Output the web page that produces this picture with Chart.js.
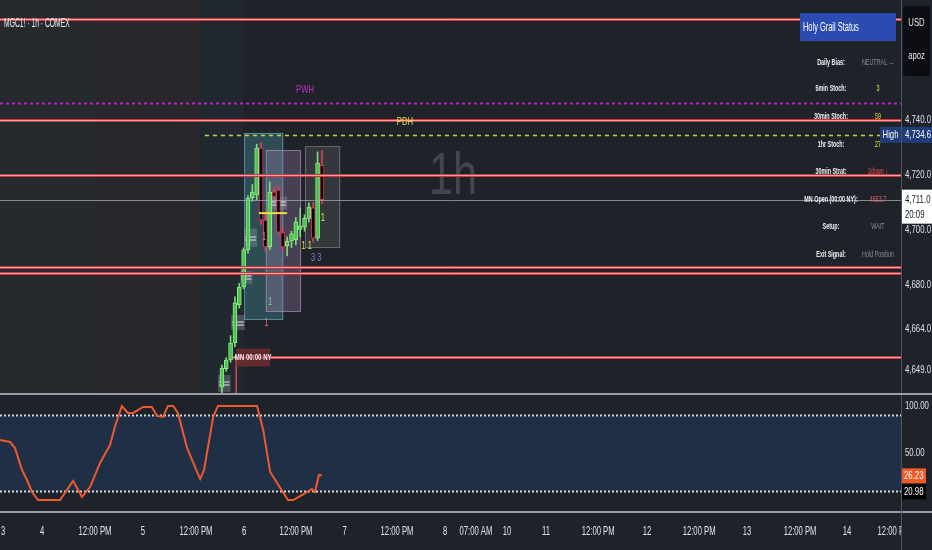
<!DOCTYPE html>
<html>
<head>
<meta charset="utf-8">
<title>MGC1! 1h COMEX</title>
<script src="https://cdn.jsdelivr.net/npm/chart.js@4.4.1/dist/chart.umd.min.js"></script>
<style>
  html, body { margin: 0; padding: 0; background: #1e2229; overflow: hidden; }
  canvas { display: block; }
</style>
</head>
<body>
<canvas id="priceChart" width="932" height="393"></canvas>
<canvas id="stochChart" width="932" height="157"></canvas>
<script>
const FONT = "'Liberation Sans', Arial, sans-serif";

// 1h candles, x = bar number counted from the left edge of the chart
const candleHours = [51, 52, 53, 54, 55, 56, 57, 58, 59, 60, 61, 62, 63, 64, 65, 66, 67, 68, 69, 70, 71, 72, 73, 74];
const candleOpen  = [4642.8, 4649.5, 4652.6, 4658.8, 4672.7, 4679.2, 4692.7, 4711.6, 4712.7, 4729.8, 4703.6, 4693.8, 4713.8, 4714.5, 4699.0, 4694.2, 4696.0, 4696.3, 4700.2, 4701.0, 4704.2, 4708.0, 4697.0, 4723.5];
const candleHigh  = [4650.8, 4653.5, 4661.5, 4675.6, 4680.5, 4693.5, 4712.5, 4716.5, 4731.2, 4731.8, 4706.0, 4717.5, 4715.5, 4715.8, 4700.5, 4697.5, 4699.5, 4704.5, 4708.0, 4705.5, 4709.8, 4710.0, 4728.4, 4729.0];
const candleLow   = [4640.5, 4648.5, 4651.8, 4657.5, 4671.5, 4678.5, 4691.5, 4710.5, 4711.0, 4702.0, 4692.3, 4692.8, 4711.2, 4698.0, 4692.3, 4690.5, 4693.5, 4694.5, 4697.5, 4699.5, 4702.8, 4695.5, 4696.0, 4709.5];
const candleClose = [4649.7, 4652.6, 4658.8, 4673.4, 4679.2, 4692.7, 4711.6, 4713.8, 4729.8, 4703.6, 4693.8, 4713.8, 4712.2, 4699.2, 4693.8, 4695.8, 4698.6, 4702.9, 4701.5, 4704.2, 4708.3, 4697.0, 4724.3, 4711.0];

const priceTicks = [4740, 4720, 4700, 4680, 4664, 4649];
const redLevels = [4776.8, 4740.0, 4720.0, 4686.4, 4684.2];
const lastPrice = 4711.0;
const pwhLevel = 4746.3;
const pdhLevel = 4734.6;
const pdhStartHour = 47.1;
const mnOpenLevel = 4653.7;
const mnOpenHour = 53.6;

// session shading
const sessionFrom = [0, 22.3, 46];
const sessionTo = [22.3, 46, 56];
const sessionColors = ['#252a2e', '#29272c', '#212830'];

// signal boxes
const boxFrom = [56.1, 61.1, 70.1];
const boxTo = [65.1, 69.2, 78.2];
const boxTop = [4735.3, 4729.1, 4730.5];
const boxBottom = [4667.2, 4670.1, 4693.4];
const boxFill = ['rgba(86,176,186,0.30)', 'rgba(170,135,185,0.30)', 'rgba(140,140,140,0.20)'];
const boxLine = ['rgba(110,200,210,0.55)', 'rgba(190,160,200,0.55)', 'rgba(170,170,170,0.45)'];

// small grey zones
const zoneFrom = [50.1, 53.1, 55.2, 56.1, 62.1];
const zoneTo = [53.0, 56.3, 58.0, 59.1, 66.0];
const zoneTop = [4647.2, 4669.0, 4685.0, 4700.5, 4712.0];
const zoneBottom = [4641.0, 4663.5, 4680.4, 4693.8, 4707.3];

// small numbers next to the bars
const markText = ['1', '1 1', '3 3', '1', '1', '1'];
const markHour = [74.2, 70.5, 72.7, 60.7, 62.1, 61.2];
const markPrice = [4704.3, 4694.1, 4689.8, 4697.4, 4673.7, 4666.1];
const markColors = ['#e3e33a', '#e3e33a', '#a070e0', '#e07a8a', '#7ed27e', '#e07a8a'];

const tableLabels = ['Daily Bias:', '5min Stoch:', '30min Stoch:', '1hr Stoch:', '30min Strat:', 'MN Open (00:00 NY):', 'Setup:', 'Exit Signal:'];
const tableValues = ['NEUTRAL \u2192', '3', '59', '27', '2down \u2193', '4653.7', 'WAIT', 'Hold Position'];
const tableValueColors = ['#8a8d95', '#ecec3e', '#ecd63e', '#ecec3e', '#e8474f', '#e6636b', '#8a8d95', '#8a8d95'];

// stochastic pane
const stochHours = [0, 2.3, 3.45, 5.06, 6.2, 7.36, 8.74, 13.8, 16.8, 18.85, 20.7, 23, 25.3, 26.4, 28, 29.4, 30.6, 32.9, 34.9, 36.1, 37.5, 38.6, 39.8, 40.9, 43, 46, 46.9, 49, 50.1, 59.1, 60.5, 62.1, 63.7, 66.2, 67.4, 69.4, 71.7, 72.4, 73.3, 74];
const stochValues = [63.8, 61.7, 55.3, 31.9, 21.3, 8.5, 0, 0, 20.2, 3.2, 13.8, 39.4, 58.5, 77.7, 100, 92.6, 92.6, 98.9, 98.9, 89.4, 88.3, 100, 100, 92.6, 55.3, 22.3, 31.9, 88.3, 100, 100, 74.5, 29.8, 18.1, 0, 0, 5.3, 11.7, 8.5, 26.6, 26.23];
const stochTicks = [100, 50];
const stochUpper = 90;
const stochLower = 10;
const stochLast = 26.23;
const stochSignal = 20.98;

const timeTickHours = [0.7, 9.66, 21.84, 32.87, 45.06, 56.09, 68.05, 79.2, 91.26, 102.3, 109.4, 116.55, 125.5, 137.5, 148.7, 160.7, 171.7, 183.9, 194.7, 205.5];
const timeTickLabels = ['3', '4', '12:00 PM', '5', '12:00 PM', '6', '12:00 PM', '7', '12:00 PM', '8', '07:00 AM', '10', '11', '12:00 PM', '12', '12:00 PM', '13', '12:00 PM', '14', '12:00 PM'];

// the screenshot text is squeezed sideways, so every label is drawn narrowed
function drawText(ctx, text, x, y, size, color, align, sx, weight) {
  ctx.save();
  ctx.translate(x, y);
  ctx.scale(sx || 0.7, 1);
  ctx.font = (weight || 'normal') + ' ' + size + 'px ' + FONT;
  ctx.fillStyle = color;
  ctx.textAlign = align || 'left';
  ctx.textBaseline = 'middle';
  ctx.fillText(text, 0, 0);
  ctx.restore();
}

function hLine(ctx, x0, x1, y, color, width, dash) {
  ctx.save();
  ctx.strokeStyle = color;
  ctx.lineWidth = width;
  ctx.setLineDash(dash || []);
  ctx.beginPath();
  ctx.moveTo(x0, y);
  ctx.lineTo(x1, y);
  ctx.stroke();
  ctx.restore();
}

function redLevel(ctx, x0, x1, y) {
  hLine(ctx, x0, x1, y, '#c8383f', 3);
  hLine(ctx, x0, x1, y, '#f2a2a5', 1);
}

function fmtPrice(v) {
  return v.toLocaleString('en-US', { minimumFractionDigits: 1, maximumFractionDigits: 1 });
}

function scaleBorder(ctx, chart, x, top) {
  ctx.strokeStyle = '#50545e';
  ctx.lineWidth = 1;
  ctx.beginPath();
  ctx.moveTo(x + 0.5, top);
  ctx.lineTo(x + 0.5, chart.height);
  ctx.stroke();
}

const pricePanePlugin = {
  id: 'pricePane',
  beforeDatasetsDraw(chart) {
    const { ctx, chartArea: a, scales: { x, y } } = chart;
    ctx.save();
    sessionFrom.forEach((h, i) => {
      const x0 = x.getPixelForValue(h);
      const x1 = x.getPixelForValue(sessionTo[i]);
      ctx.fillStyle = sessionColors[i];
      ctx.fillRect(x0, a.top, x1 - x0, a.bottom - a.top);
    });

    // interval watermark
    drawText(ctx, '1h', 453, 177, 60, 'rgba(120,125,135,0.40)', 'center', 0.72);

    boxFrom.forEach((h, i) => {
      const x0 = x.getPixelForValue(h);
      const x1 = x.getPixelForValue(boxTo[i]);
      const y0 = y.getPixelForValue(boxTop[i]);
      const y1 = y.getPixelForValue(boxBottom[i]);
      ctx.fillStyle = boxFill[i];
      ctx.fillRect(x0, y0, x1 - x0, y1 - y0);
      ctx.strokeStyle = boxLine[i];
      ctx.lineWidth = 1;
      ctx.strokeRect(x0 + 0.5, y0 + 0.5, x1 - x0 - 1, y1 - y0 - 1);
    });

    zoneFrom.forEach((h, i) => {
      const x0 = x.getPixelForValue(h);
      const x1 = x.getPixelForValue(zoneTo[i]);
      const y0 = y.getPixelForValue(zoneTop[i]);
      const y1 = y.getPixelForValue(zoneBottom[i]);
      ctx.fillStyle = 'rgba(150,155,165,0.35)';
      ctx.fillRect(x0, y0, x1 - x0, y1 - y0);
      const ym = Math.round((y0 + y1) / 2) + 0.5;
      hLine(ctx, x0 + 1, x1 - 1, ym - 1.5, '#e8e8e8', 1);
      hLine(ctx, x0 + 1, x1 - 1, ym + 1.5, '#e8e8e8', 1);
    });
    ctx.restore();
  },
  afterDatasetsDraw(chart) {
    const { ctx, chartArea: a, scales: { x, y } } = chart;
    ctx.save();
    ctx.beginPath();
    ctx.rect(a.left, a.top, a.right - a.left, a.bottom - a.top);
    ctx.clip();

    // 1h level marker
    hLine(ctx, x.getPixelForValue(59.5), x.getPixelForValue(66), y.getPixelForValue(4706.1), '#e8e040', 2);

    redLevels.forEach(p => redLevel(ctx, a.left, a.right, Math.round(y.getPixelForValue(p)) + 0.5));
    hLine(ctx, a.left, a.right, Math.round(y.getPixelForValue(lastPrice)) + 0.5, 'rgba(170,173,180,0.75)', 1);
    hLine(ctx, a.left, a.right, Math.round(y.getPixelForValue(pwhLevel)) + 0.5, '#c21fc4', 2, [3, 3]);
    hLine(ctx, x.getPixelForValue(pdhStartHour), a.right, Math.round(y.getPixelForValue(pdhLevel)) + 0.5, '#c9d94e', 1.5, [4, 4]);

    // midnight NY open
    const mnX = x.getPixelForValue(mnOpenHour);
    const mnY = Math.round(y.getPixelForValue(mnOpenLevel)) + 0.5;
    redLevel(ctx, mnX, a.right, mnY);
    ctx.strokeStyle = '#d84a52';
    ctx.lineWidth = 1.5;
    ctx.beginPath();
    ctx.moveTo(mnX + 3, mnY);
    ctx.lineTo(mnX + 3, a.bottom);
    ctx.stroke();
    ctx.fillStyle = 'rgba(128,46,52,0.7)';
    ctx.fillRect(mnX + 3, mnY - 9, 34, 18);
    drawText(ctx, 'MN 00:00 NY', mnX + 20, mnY, 9.5, '#f6ecec', 'center', 0.64, 'bold');

    markText.forEach((t, i) => {
      drawText(ctx, t, x.getPixelForValue(markHour[i]), y.getPixelForValue(markPrice[i]), 10, markColors[i], 'center', 0.75);
    });

    drawText(ctx, 'PWH', 305, y.getPixelForValue(pwhLevel) - 13, 11, '#c62bc8', 'center', 0.7);
    drawText(ctx, 'PDH', 405, y.getPixelForValue(pdhLevel) - 13, 11, '#d6e04a', 'center', 0.7);
    ctx.restore();
  },
  afterDraw(chart) {
    const { ctx, chartArea: a, scales: { y } } = chart;
    ctx.save();
    // symbol title
    drawText(ctx, 'MGC1! \u00b7 1h \u00b7 COMEX', 4, 23, 13, '#eceef2', 'left', 0.52);

    // status table
    ctx.fillStyle = '#2c4bb0';
    ctx.fillRect(800, 13, 96, 28);
    drawText(ctx, 'Holy Grail Status', 803, 28, 12, '#ffffff', 'left', 0.62);
    const rowY = [63, 89, 117, 145, 172, 200, 227, 255];
    tableLabels.forEach((t, i) => {
      drawText(ctx, t, 831, rowY[i], 9, '#f0f1f4', 'center', 0.6, 'bold');
      drawText(ctx, tableValues[i], 878, rowY[i], 9, tableValueColors[i], 'center', 0.6);
    });

    scaleBorder(ctx, chart, a.right, 0);

    // price scale ticks
    priceTicks.forEach(p => {
      drawText(ctx, fmtPrice(p), a.right + 4, y.getPixelForValue(p), 11, '#dfe1e6', 'left', 0.71);
    });

    // currency / unit box
    ctx.fillStyle = '#0b0d12';
    ctx.beginPath();
    ctx.roundRect(903, 6, 27, 70, 3);
    ctx.fill();
    drawText(ctx, 'USD', 916.5, 23, 11, '#e8e9ec', 'center', 0.7);
    drawText(ctx, 'apoz', 916.5, 56, 11, '#e8e9ec', 'center', 0.7);

    // PDH price label
    const pdhY = y.getPixelForValue(pdhLevel);
    ctx.fillStyle = '#1f3c78';
    ctx.fillRect(a.right + 1, pdhY - 8, 31, 16);
    ctx.fillRect(a.right - 21, pdhY - 8, 21, 16);
    drawText(ctx, 'High', a.right - 10.5, pdhY, 11, '#ffffff', 'center', 0.7);
    drawText(ctx, fmtPrice(pdhLevel), a.right + 4, pdhY, 11, '#ffffff', 'left', 0.71);

    // last price label with countdown
    const lpY = y.getPixelForValue(lastPrice);
    ctx.fillStyle = '#ffffff';
    ctx.fillRect(a.right + 1, lpY - 10, 31, 34);
    drawText(ctx, fmtPrice(lastPrice), a.right + 4, lpY, 11, '#131722', 'left', 0.71);
    drawText(ctx, '20:09', a.right + 4, lpY + 15, 11, '#131722', 'left', 0.71);
    ctx.restore();
  }
};

const bull = candleHours.map((h, i) => candleClose[i] >= candleOpen[i]);

new Chart(document.getElementById('priceChart'), {
  type: 'bar',
  data: {
    datasets: [
      {
        label: 'wicks',
        data: candleHours.map((h, i) => ({ x: h, y: [candleLow[i], candleHigh[i]] })),
        backgroundColor: bull.map(b => (b ? '#79dd79' : '#e23a5c')),
        barThickness: 1,
        grouped: false,
        order: 2,
      },
      {
        label: 'bodies',
        data: candleHours.map((h, i) => ({ x: h, y: [candleOpen[i], candleClose[i]] })),
        backgroundColor: bull.map(b => (b ? '#4cc34c' : '#070707')),
        borderColor: bull.map(b => (b ? '#90ec90' : '#e2315a')),
        borderWidth: 1,
        borderSkipped: false,
        barThickness: 4,
        grouped: false,
        order: 1,
      },
    ],
  },
  options: {
    responsive: false,
    animation: false,
    layout: { padding: 0 },
    plugins: { legend: { display: false }, tooltip: { enabled: false } },
    scales: {
      x: { type: 'linear', min: 0, max: 207.1, offset: false, display: false },
      y: {
        position: 'right',
        min: 4640.6,
        max: 4783.7,
        grid: { display: false, drawTicks: false },
        border: { display: false },
        ticks: { display: false },
        afterBuildTicks: s => { s.ticks = priceTicks.map(v => ({ value: v })); },
        afterFit: s => { s.width = 31; s.paddingTop = 0; s.paddingBottom = 0; },
      },
    },
  },
  plugins: [pricePanePlugin],
});

const stochPanePlugin = {
  id: 'stochPane',
  beforeDatasetsDraw(chart) {
    const { ctx, chartArea: a, scales: { y } } = chart;
    const yU = Math.round(y.getPixelForValue(stochUpper)) + 0.5;
    const yL = Math.round(y.getPixelForValue(stochLower)) + 0.5;
    ctx.save();
    ctx.fillStyle = '#1f2f45';
    ctx.fillRect(a.left, yU, a.right - a.left, yL - yU);
    hLine(ctx, a.left, a.right, yU, '#d6d8de', 2, [2, 2]);
    hLine(ctx, a.left, a.right, yL, '#d6d8de', 2, [2, 2]);
    ctx.restore();
  },
  afterDraw(chart) {
    const { ctx, chartArea: a, scales: { x, y } } = chart;
    ctx.save();
    // pane separators
    hLine(ctx, 0, chart.width, 1, '#9a9da5', 2);
    hLine(ctx, 0, chart.width, a.bottom + 1, '#9a9da5', 2);
    scaleBorder(ctx, chart, a.right, 2);

    stochTicks.forEach(v => {
      drawText(ctx, v.toFixed(2), a.right + 4, y.getPixelForValue(v), 11, '#dfe1e6', 'left', 0.71);
    });

    // time axis
    ctx.save();
    ctx.beginPath();
    ctx.rect(0, a.bottom, a.right, chart.height - a.bottom);
    ctx.clip();
    timeTickHours.forEach((h, i) => {
      drawText(ctx, timeTickLabels[i], x.getPixelForValue(h), a.bottom + 21, 12, '#e2e4e9', 'center', 0.64);
    });
    ctx.restore();

    // value labels
    const lastY = y.getPixelForValue(stochLast);
    ctx.fillStyle = '#f05a28';
    ctx.fillRect(a.right + 1, lastY - 7, 24, 15);
    drawText(ctx, stochLast.toFixed(2), a.right + 3, lastY + 0.5, 11, '#ffffff', 'left', 0.71);
    const sigY = lastY + 16;
    ctx.fillStyle = '#000000';
    ctx.fillRect(a.right + 1, sigY - 7, 24, 15);
    drawText(ctx, stochSignal.toFixed(2), a.right + 3, sigY + 0.5, 11, '#ffffff', 'left', 0.71);
    ctx.restore();
  }
};

new Chart(document.getElementById('stochChart'), {
  type: 'line',
  data: {
    datasets: [
      {
        label: 'Stoch',
        data: stochHours.map((h, i) => ({ x: h, y: stochValues[i] })),
        borderColor: '#ee5a2c',
        borderWidth: 2,
        pointRadius: 0,
        tension: 0,
      },
    ],
  },
  options: {
    responsive: false,
    animation: false,
    layout: { padding: { top: 0, bottom: 39, left: 0, right: 0 } },
    plugins: { legend: { display: false }, tooltip: { enabled: false } },
    scales: {
      x: { type: 'linear', min: 0, max: 207.1, offset: false, display: false },
      y: {
        position: 'right',
        min: -11.7,
        max: 113.8,
        grid: { display: false, drawTicks: false },
        border: { display: false },
        ticks: { display: false },
        afterBuildTicks: s => { s.ticks = stochTicks.map(v => ({ value: v })); },
        afterFit: s => { s.width = 31; s.paddingTop = 0; s.paddingBottom = 0; },
      },
    },
  },
  plugins: [stochPanePlugin],
});
</script>
</body>
</html>
